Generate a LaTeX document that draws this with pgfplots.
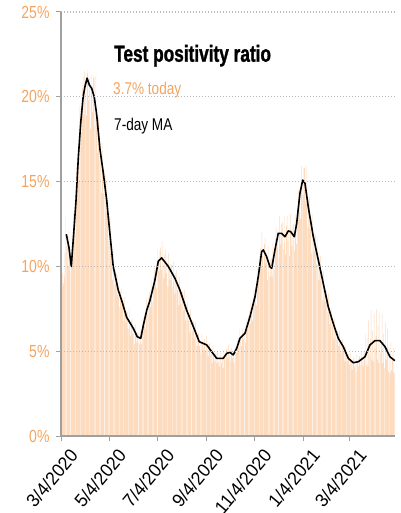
\documentclass[border=0pt]{standalone}
\usepackage{pgfplots}
\pgfplotsset{compat=1.18}
\usepackage{fontspec}
\setmainfont{Liberation Sans}[FakeStretch=0.8]
\newfontfamily\titlefont{Liberation Sans}[FakeStretch=0.74,FakeBold=1.2]
\newfontfamily\xlabfont{Liberation Sans}[FakeStretch=0.95]

\definecolor{peach}{RGB}{252,219,190}
\definecolor{tickorange}{RGB}{244,164,96}
\definecolor{axgray}{RGB}{160,160,160}

\begin{document}
\begin{tikzpicture}
\begin{axis}[
    scale only axis,
    width=334bp, height=424bp,
    xmin=0, xmax=422.3, ymin=0, ymax=25,
    axis x line=bottom, axis y line=left,
    axis line style={draw=axgray, line width=1.3bp, -},
    axis on top,
    tick align=outside,
    major tick length=5bp,
    tick style={draw=axgray, line width=1bp},
    xtick={0,61,122,184,245,306,365},
    xticklabels={3/4/2020,5/4/2020,7/4/2020,9/4/2020,11/4/2020,1/4/2021,3/4/2021},
    xticklabel style={rotate=50, anchor=north east, inner sep=0pt, xshift=0bp, yshift=-10bp,
        font=\xlabfont\fontsize{18.5bp}{21bp}\selectfont},
    ytick={0,5,10,15,20,25},
    yticklabels={0\%,5\%,10\%,15\%,20\%,25\%},
    yticklabel style={text=tickorange, xshift=-3bp, font=\fontsize{17.5bp}{19bp}\selectfont},
    ymajorgrids,
    major grid style={draw=gray!55, line width=1.1bp, dash pattern=on 1.1bp off 1.9bp},
]
% daily positivity
\addplot[ybar, bar width=0.6, fill=peach, draw=none] coordinates {
(0,9.2) (1,8.8) (2,9.6) (3,9.0) (4,9.4) (5,10.8) (6,12.9) (7,11.2) (8,11.8) (9,10.0)
(10,12.1) (11,10.7) (12,9.7) (13,10.5) (14,11.2) (15,10.5) (16,13.1) (17,12.2) (18,11.9) (19,14.5)
(20,16.0) (21,14.9) (22,16.8) (23,15.1) (24,19.5) (25,18.5) (26,17.9) (27,20.5) (28,21.2) (29,18.9)
(30,21.5) (31,20.2) (32,18.9) (33,21.4) (34,21.6) (35,19.8) (36,21.1) (37,18.1) (38,21.3) (39,20.5)
(40,19.1) (41,21.1) (42,21.2) (43,18.3) (44,21.2) (45,18.4) (46,16.7) (47,18.7) (48,18.9) (49,16.2)
(50,16.9) (51,14.3) (52,17.3) (53,15.6) (54,14.3) (55,15.6) (56,15.4) (57,13.2) (58,15.1) (59,12.9)
(60,11.5) (61,12.9) (62,12.9) (63,10.8) (64,11.1) (65,9.2) (66,10.9) (67,9.8) (68,8.9) (69,9.8)
(70,9.6) (71,8.3) (72,9.5) (73,8.2) (74,7.6) (75,8.5) (76,8.7) (77,7.6) (78,8.0) (79,6.8)
(80,8.2) (81,7.3) (82,6.7) (83,7.4) (84,7.3) (85,6.3) (86,7.5) (87,6.5) (88,5.9) (89,6.8)
(90,6.9) (91,6.0) (92,6.4) (93,5.4) (94,6.6) (95,6.0) (96,5.5) (97,6.1) (98,6.1) (99,5.4)
(100,6.3) (101,5.6) (102,5.4) (103,6.6) (104,7.0) (105,6.5) (106,7.1) (107,6.3) (108,8.1) (109,7.5)
(110,7.2) (111,8.2) (112,8.5) (113,7.6) (114,9.2) (115,8.3) (116,7.9) (117,9.4) (118,9.9) (119,9.0)
(120,9.9) (121,8.7) (122,11.0) (123,10.3) (124,9.7) (125,10.9) (126,11.1) (127,9.8) (128,11.5) (129,10.1)
(130,9.3) (131,10.7) (132,11.0) (133,9.6) (134,10.3) (135,8.8) (136,10.8) (137,9.8) (138,9.2) (139,10.1)
(140,10.1) (141,8.8) (142,10.3) (143,9.1) (144,8.4) (145,9.6) (146,9.8) (147,8.6) (148,9.0) (149,7.7)
(150,9.4) (151,8.5) (152,7.8) (153,8.6) (154,8.5) (155,7.4) (156,8.6) (157,7.4) (158,6.8) (159,7.7)
(160,7.9) (161,6.8) (162,7.2) (163,6.1) (164,7.5) (165,6.7) (166,6.2) (167,6.8) (168,6.7) (169,5.8)
(170,6.7) (171,5.8) (172,5.3) (173,6.0) (174,6.1) (175,5.3) (176,5.6) (177,4.8) (178,6.0) (179,5.5)
(180,5.1) (181,5.7) (182,5.7) (183,5.0) (184,5.9) (185,5.1) (186,4.7) (187,5.4) (188,5.5) (189,4.8)
(190,5.1) (191,4.3) (192,5.3) (193,4.8) (194,4.4) (195,4.9) (196,4.9) (197,4.3) (198,5.0) (199,4.4)
(200,4.1) (201,4.7) (202,4.9) (203,4.3) (204,4.7) (205,4.0) (206,5.1) (207,4.7) (208,4.5) (209,5.1)
(210,5.2) (211,4.6) (212,5.4) (213,4.8) (214,4.4) (215,5.1) (216,5.2) (217,4.6) (218,4.9) (219,4.3)
(220,5.4) (221,5.1) (222,4.9) (223,5.6) (224,5.8) (225,5.2) (226,6.3) (227,5.6) (228,5.3) (229,6.1)
(230,6.4) (231,5.7) (232,6.2) (233,5.5) (234,6.9) (235,6.5) (236,6.3) (237,7.1) (238,7.4) (239,6.6)
(240,8.0) (241,7.2) (242,6.8) (243,8.1) (244,8.6) (245,7.8) (246,8.7) (247,7.7) (248,9.9) (249,9.4)
(250,9.2) (251,10.6) (252,11.1) (253,10.0) (254,12.0) (255,10.6) (256,9.9) (257,11.3) (258,11.7) (259,10.2)
(260,10.8) (261,9.2) (262,11.2) (263,10.2) (264,9.4) (265,10.4) (266,10.5) (267,9.4) (268,11.4) (269,10.3)
(270,9.8) (271,11.6) (272,12.3) (273,11.1) (274,12.1) (275,10.5) (276,13.0) (277,12.0) (278,11.3) (279,12.5)
(280,12.6) (281,11.0) (282,13.0) (283,11.4) (284,10.7) (285,12.4) (286,13.0) (287,11.5) (288,12.3) (289,10.6)
(290,13.1) (291,12.0) (292,11.2) (293,12.4) (294,12.5) (295,10.9) (296,13.1) (297,11.9) (298,11.3) (299,13.5)
(300,14.5) (301,13.2) (302,14.6) (303,12.8) (304,15.9) (305,15.0) (306,14.2) (307,15.8) (308,15.8) (309,13.8)
(310,15.9) (311,13.7) (312,12.3) (313,13.9) (314,14.1) (315,12.2) (316,12.8) (317,10.8) (318,13.1) (319,11.8)
(320,10.9) (321,11.9) (322,11.8) (323,10.1) (324,11.8) (325,10.1) (326,9.2) (327,10.4) (328,10.6) (329,9.1)
(330,9.5) (331,8.0) (332,9.7) (333,8.7) (334,7.9) (335,8.7) (336,8.5) (337,7.3) (338,8.4) (339,7.2)
(340,6.6) (341,7.4) (342,7.6) (343,6.5) (344,6.8) (345,5.7) (346,6.9) (347,6.2) (348,5.7) (349,6.2)
(350,6.1) (351,5.3) (352,6.2) (353,5.4) (354,4.9) (355,5.6) (356,5.7) (357,5.0) (358,5.3) (359,4.4)
(360,5.3) (361,4.8) (362,4.4) (363,4.8) (364,4.8) (365,4.2) (366,4.9) (367,4.3) (368,3.9) (369,4.5)
(370,4.7) (371,4.1) (372,4.4) (373,3.8) (374,4.8) (375,4.4) (376,4.1) (377,4.7) (378,4.7) (379,4.2)
(380,5.0) (381,4.4) (382,4.1) (383,4.8) (384,5.0) (385,6.0) (386,4.2) (387,5.8) (388,4.1) (389,6.8)
(390,4.8) (391,5.7) (392,7.4) (393,4.5) (394,6.2) (395,4.4) (396,7.2) (397,5.2) (398,5.9) (399,7.5)
(400,4.5) (401,6.5) (402,4.3) (403,7.3) (404,4.9) (405,5.6) (406,7.2) (407,4.3) (408,6.0) (409,4.0)
(410,6.7) (411,4.5) (412,5.2) (413,6.3) (414,3.8) (415,5.2) (416,3.7) (417,5.5) (418,3.9) (419,4.5)
(420,5.2) (421,3.75) (422,3.7)
};
% 7-day moving average
\addplot[black, line width=1.6bp, line join=round, mark=none] coordinates {
(6.7,11.9) (10.1,11.1) (13,10.0) (16,11.9) (19,13.9) (22,16.5) (25,18.5) (28,20.0) (30.3,20.6)
(33,21.1) (35.8,20.7) (38.8,20.5) (42,20.0) (45,19.0) (49.3,16.9) (53.5,15.5) (57.8,13.9) (59.8,12.9)
(66,10.0) (72.4,8.6) (76.7,8.0) (83,7.0) (91.4,6.35) (96.5,5.85) (100.8,5.76) (104,6.5) (108.3,7.4)
(112.5,8.0) (118.8,9.2) (123,10.3) (127.3,10.5) (135.7,10.0) (144,9.3) (150.4,8.6) (159,7.4)
(167.3,6.45) (174.8,5.56) (184.2,5.37) (190.5,4.97) (196.8,4.58) (205.2,4.58) (209.5,4.87)
(213.7,4.93) (217.8,4.78) (222.1,5.17) (226.3,5.76) (232.6,6.05) (238.9,7.03) (245.3,8.21)
(249.4,9.39) (253.7,10.87) (255.8,10.97) (260,10.57) (264.2,9.98) (266.4,9.89) (270.5,10.97)
(274.7,11.95) (279,11.95) (283.2,11.75) (287.4,12.09) (290.4,12.05) (295,11.75) (298,12.54)
(302.1,14.31) (305.6,15.09) (308.5,14.9) (312.6,13.52) (319,11.75) (325.3,10.38) (331.6,9.0)
(337.9,7.62) (344.2,6.64) (350.6,5.76) (356.9,5.27) (363.2,4.58) (369.5,4.32) (375.9,4.38)
(384.3,4.67) (390.6,5.37) (397,5.62) (403.3,5.62) (409.6,5.27) (415.9,4.67) (422.2,4.44)
};
\coordinate (o) at (rel axis cs:0,0);
\end{axis}

\node[anchor=base west, inner sep=0pt, font=\titlefont\bfseries\fontsize{23.3bp}{26bp}\selectfont]
    at ([shift={(53bp,374.3bp)}]o) {Test positivity ratio};
\node[anchor=base west, inner sep=0pt, text=tickorange, font=\fontsize{17bp}{19bp}\selectfont]
    at ([shift={(52bp,341bp)}]o) {3.7\% today};
\node[anchor=base west, inner sep=0pt, font=\fontsize{17bp}{19bp}\selectfont]
    at ([shift={(53bp,305bp)}]o) {7-day MA};

\pgfresetboundingbox
\path[use as bounding box] ([shift={(-61bp,-77bp)}]o) rectangle ([shift={(340bp,436bp)}]o);
\end{tikzpicture}
\end{document}
